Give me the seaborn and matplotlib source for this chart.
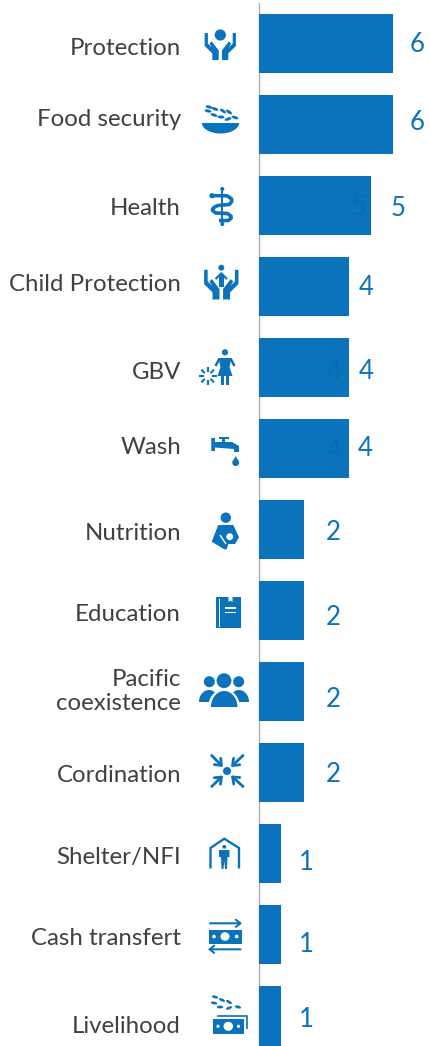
import numpy as np
import pandas as pd
import seaborn as sns
import matplotlib.pyplot as plt
from matplotlib.patches import Circle, Ellipse, Polygon, Rectangle, PathPatch
from matplotlib.path import Path

sectors = ["Protection", "Food security", "Health", "Child Protection", "GBV", "Wash", "Nutrition",
           "Education", "Pacific\ncoexistence", "Cordination", "Shelter/NFI", "Cash transfert", "Livelihood"]
counts = [6, 6, 5, 4, 4, 4, 2, 2, 2, 2, 1, 1, 1]

BLUE = "#0b72bc"
DARK = "#0a6cb3"
GREY = "#404040"

# where the labels sit in the reference, in pixels
name_base = [55, 126, 215, 291, 379, 454, 540, 621, 710, 782, 864, 945, 1033]
value_x = [410, 410, 391, 359, 359, 357.5, 326, 326, 326, 326, 299, 299, 299]
value_base = [52, 130, 216, 295, 379, 456, 540, 625, 707, 782, 870, 952, 1027]

sns.set_theme(style="white")
plt.rcParams["font.family"] = ["Lato", "DejaVu Sans"]

df = pd.DataFrame({"sector": sectors, "count": counts})

fig = plt.figure(figsize=(4.3, 10.46), dpi=100, facecolor="white")
ax = fig.add_axes([259 / 430, 0, (430 - 259) / 430, 1043 / 1046])
sns.barplot(data=df, y="sector", x="count", color=BLUE, saturation=1, width=59 / 81, linewidth=0, ax=ax)
ax.set_xlim(0, 171 / 22.4)
ax.set_ylim(12.37, -0.5)
ax.set_xlabel("")
ax.set_ylabel("")
ax.set_xticks([])
ax.set_yticks([])
sns.despine(ax=ax, left=False, bottom=True)
ax.spines["left"].set_color("#b0b0b0")
ax.spines["left"].set_linewidth(1.0)
ax.spines["left"].set_zorder(0.5)

# overlay in pixel coordinates for labels and pictograms
ov = fig.add_axes([0, 0, 1, 1])
ov.set_xlim(0, 430)
ov.set_ylim(1046, 0)
ov.axis("off")
ov.patch.set_visible(False)

for name, base in zip(sectors, name_base):
    if "\n" in name:
        first, second = name.split("\n")
        ov.text(181, base - 24, first, ha="right", va="baseline", fontsize=17.3, color=GREY)
        ov.text(181, base, second, ha="right", va="baseline", fontsize=17.3, color=GREY)
    else:
        ov.text(181, base, name, ha="right", va="baseline", fontsize=17.3, color=GREY)

for v, x, base in zip(counts, value_x, value_base):
    ov.text(x, base, str(v), ha="left", va="baseline", fontsize=18.5, color=BLUE)

# faint duplicates inside the bars
for i, x, base in [(2, 352, 215), (4, 327, 380), (5, 327, 458)]:
    ov.text(x, base, str(counts[i]), ha="left", va="baseline", fontsize=18.5, color=DARK)


def circle(x, y, r, color=BLUE, **kw):
    ov.add_patch(Circle((x, y), r, fc=color, ec="none", **kw))


def poly(pts, color=BLUE, **kw):
    ov.add_patch(Polygon(pts, closed=True, fc=color, ec="none", **kw))


def line(pts, lw=1.6, color=BLUE):
    pts = np.array(pts, dtype=float)
    ov.plot(pts[:, 0], pts[:, 1], color=color, lw=lw, solid_capstyle="butt", solid_joinstyle="miter")


def half_dome(cx, base, w, h, color=BLUE, **kw):
    t = np.linspace(0, np.pi, 40)
    poly(np.c_[cx + w / 2 * np.cos(t), base - h * np.sin(t)], color=color, **kw)


def hands(cx, bottom, s=1.0):
    shape = np.array([(-15.6, -27), (-12.4, -27), (-12.4, -16.5), (-8.5, -12.5), (-10.8, -16.5), (-8.5, -18.5),
                      (-1.6, -9.5), (-1.6, 0), (-8, 0), (-8, -6.5), (-15.6, -14)])
    for side in (-1, 1):
        pts = shape * s
        poly(np.c_[cx - side * pts[:, 0], bottom + pts[:, 1]])


def grains(pts, w=7, h=3):
    for x, y, a in pts:
        ov.add_patch(Ellipse((x, y), w, h, angle=a, fc=BLUE, ec="none"))


def arrow(a, b, lw=2.0, size=10):
    ov.annotate("", xy=b, xytext=a, arrowprops=dict(arrowstyle="->,head_length=0.4,head_width=0.32",
                                                    color=BLUE, lw=lw, shrinkA=0, shrinkB=0,
                                                    mutation_scale=size))


# Protection
circle(220.3, 35, 5.6)
hands(220.3, 60)

# Food security
t = np.linspace(0, np.pi, 40)
poly(np.c_[220.5 + 18.5 * np.cos(t), 123 + 10.5 * np.sin(t)])
grains([(209, 107, 15), (215, 109, 20), (223, 111, 35), (229, 112, 35), (235, 117.5, 20),
        (208, 111, 12), (214, 115, 18), (221, 117, 5), (228, 119, -20)])

# Health
ov.plot([222.3, 222.3], [188, 225], color=BLUE, lw=1.4)
snake = Path([(210, 195.7), (226, 195.7), (236, 199), (229, 204.5), (218, 205.5), (208, 209), (216, 213),
              (227, 213.5), (235, 217), (228, 220.5), (219, 220.5)],
             [Path.MOVETO, Path.LINETO, Path.CURVE3, Path.CURVE3, Path.LINETO, Path.CURVE3, Path.CURVE3,
              Path.LINETO, Path.CURVE3, Path.CURVE3, Path.LINETO])
ov.add_patch(PathPatch(snake, fc="none", ec=BLUE, lw=2.6))
circle(222.3, 189, 2)
circle(222.3, 224, 2)
circle(212, 195.7, 2.6)

# Child protection
hands(221.3, 299.5, 1.1)
circle(221.3, 267.7, 3)
line([(215.5, 279), (221.3, 273.5), (227, 279)], lw=1.6)
poly([(219, 273.5), (223.6, 273.5), (223.6, 287), (219, 287)])

# GBV
circle(225, 352.3, 3.1)
poly([(218.5, 358), (231.5, 358), (229.5, 367), (232.5, 376), (217.5, 376), (220.5, 367)])
line([(219.5, 358.5), (215.5, 366)], lw=1.8)
line([(230.5, 358.5), (234.5, 366)], lw=1.8)
poly([(221.2, 376), (224, 376), (224, 385), (221.2, 385)])
poly([(226, 376), (228.8, 376), (228.8, 385), (226, 385)])
for a in np.arange(0, 360, 45):
    c, s = np.cos(np.radians(a)), np.sin(np.radians(a))
    line([(207.7 + 4 * c, 376 + 4 * s), (207.7 + 9 * c, 376 + 9 * s)], lw=1.5)

# Wash
poly([(211.3, 438), (215, 438), (215, 442), (232, 442), (239, 446), (239, 452), (234, 452), (234, 449),
      (215, 447.5), (215, 451), (211.3, 451)])
poly([(222, 438), (225, 438), (225, 443), (222, 443)])
poly([(219, 437), (229, 437), (229, 439), (219, 439)])
poly([(235.7, 456), (232.3, 462), (239, 462)])
circle(235.7, 462.7, 3.4)

# Nutrition
circle(225.8, 517.7, 5.2)
poly([(218.3, 525), (233.3, 525), (239, 537.3), (235, 544), (228.3, 544), (226.7, 549.3), (224.3, 549.3),
      (211.7, 541.7)])
circle(229.7, 536.7, 3.4, color="white")
line([(220, 535), (226, 544)], lw=1.0, color="white")

# Education
ov.add_patch(Rectangle((216, 597), 25, 30.5, fc=BLUE, ec="none"))
ov.add_patch(Rectangle((218.6, 598.5), 1.4, 28, fc="white", ec="none"))
poly([(228.5, 597), (232.5, 597), (232.5, 602), (230.5, 600.5), (228.5, 602)], color="white")
ov.add_patch(Rectangle((224.5, 607), 11, 1.5, fc="white", ec="none"))
ov.add_patch(Rectangle((224.5, 611.5), 11, 1.5, fc="white", ec="none"))

# Pacific coexistence
circle(209.3, 681.7, 5.5)
circle(238.7, 681.7, 5.5)
half_dome(209, 702, 20, 12)
half_dome(239, 702, 20, 12)
half_dome(224, 708, 32, 19, color="white")
half_dome(224.2, 707, 26.5, 16)
circle(224, 680.7, 7.4)

# Cordination
circle(227, 771, 4)
arrow((211.7, 755.5), (223, 767))
arrow((243, 755.5), (231, 767))
arrow((211.7, 786.5), (223, 775.5))
arrow((243, 786.5), (231, 775.5))

# Shelter/NFI
line([(210.5, 868.5), (210.5, 848), (224.3, 838.7), (239, 848), (239, 868.5)], lw=1.7)
circle(224.3, 846.8, 1.9)
poly([(219, 850), (229.5, 850), (229.5, 857), (227.5, 857), (227, 869), (225, 869), (224.3, 861),
      (223.5, 869), (221.5, 869), (221, 857), (219, 857)])

# Cash transfert
ov.add_patch(Rectangle((209, 929.5), 32.7, 14, fc=BLUE, ec="none"))
ov.add_patch(Ellipse((225, 936.5), 9, 8.6, fc="white", ec="none"))
circle(214, 936.5, 1.8, color="white")
circle(236.7, 936.5, 1.8, color="white")
arrow((210, 923.3), (242, 923.3), lw=1.5, size=8)
arrow((240.5, 949.3), (208, 949.3), lw=1.5, size=8)

# Livelihood
grains([(215, 997, 15), (222, 1000, 25), (229, 1002, 30), (238, 1007, 15), (214, 1003, 10),
        (220, 1007, 0), (229, 1008, -20)], w=6.5, h=2.8)
line([(217, 1015.5), (247, 1015.5), (247, 1029)], lw=1.2)
ov.add_patch(Rectangle((213, 1019), 30.5, 14.5, fc=BLUE, ec="none"))
ov.add_patch(Ellipse((228.3, 1026.3), 9.6, 9, fc="white", ec="none"))
circle(218, 1026.3, 1.6, color="white")
circle(238.5, 1026.3, 1.6, color="white")

fig.savefig("out.png", dpi=100, facecolor="white")
